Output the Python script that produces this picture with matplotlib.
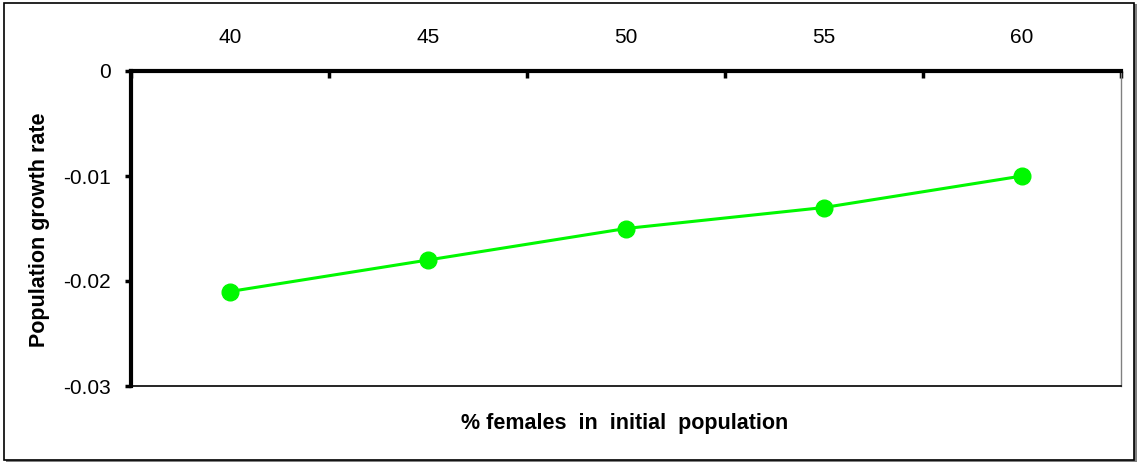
import matplotlib
matplotlib.use("Agg")
import matplotlib.pyplot as plt
from matplotlib.patches import Rectangle

plt.rcParams["font.family"] = ["Liberation Sans", "DejaVu Sans"]

# data
females_pct = ["40", "45", "50", "55", "60"]
growth_rate = [-0.021, -0.018, -0.015, -0.013, -0.010]
y_ticks = [0, -0.01, -0.02, -0.03]
y_tick_labels = ["0", "-0.01", "-0.02", "-0.03"]

W, H = 1139, 463
fig = plt.figure(figsize=(W / 100, H / 100), dpi=100)

# outer chart frame with a small shadow, Excel style
fig.patches.append(Rectangle((6 / W, 1 - 462 / H), 1131 / W, 458 / H,
                             transform=fig.transFigure, facecolor="#808080",
                             edgecolor="none", zorder=-2))
fig.patches.append(Rectangle((4 / W, 1 - 460 / H), 1130 / W, 457 / H,
                             transform=fig.transFigure, facecolor="white",
                             edgecolor="black", linewidth=1.2, zorder=-1))

ax = fig.add_axes([131 / W, 1 - 386 / H, 990 / W, 315 / H])
ax.set_zorder(1)
ax.patch.set_alpha(0)
x = list(range(len(females_pct)))
ax.plot(x, growth_rate, color="#00f800", linewidth=2.2, marker="o",
        markersize=12, markerfacecolor="#00f800", markeredgecolor="#00f800",
        clip_on=False, zorder=3)

ax.set_xlim(-0.5, len(females_pct) - 0.5)
ax.set_ylim(-0.03, 0)

# category axis sits on top (value axis crosses at 0)
ax.xaxis.tick_top()
ax.set_xticks([i - 0.5 for i in range(len(females_pct) + 1)])
ax.set_xticklabels([])
ax.set_xticks(x, minor=True)
ax.set_xticklabels(females_pct, minor=True)
ax.tick_params(axis="x", which="major", direction="in", length=5, width=2.5,
               top=True, bottom=False)
ax.tick_params(axis="x", which="minor", length=0, top=True, bottom=False,
               labelsize=15, pad=17)

ax.set_yticks(y_ticks)
ax.set_yticklabels(y_tick_labels)
ax.tick_params(axis="y", direction="out", length=4.5, width=2.5, labelsize=15,
               pad=10)

ax.spines["top"].set_linewidth(3)
ax.spines["left"].set_linewidth(3)
ax.spines["bottom"].set_linewidth(1.2)
ax.spines["right"].set_linewidth(1.0)
ax.spines["right"].set_color("#808080")

fig.text(40 / W, 1 - 230 / H, "Population growth rate", rotation=90,
         ha="center", va="center", fontsize=15.5, fontweight="bold")
fig.text(625 / W, 1 - 423 / H, "% females  in  initial  population",
         ha="center", va="center", fontsize=15.5, fontweight="bold")

fig.savefig("out.png", dpi=100)
